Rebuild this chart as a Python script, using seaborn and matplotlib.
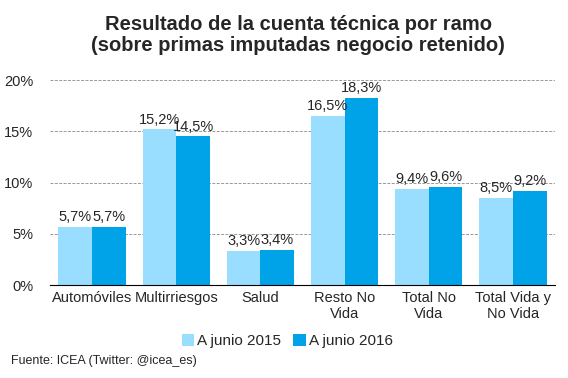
import numpy as np
import pandas as pd
import matplotlib
matplotlib.use("Agg")
import matplotlib.pyplot as plt
import seaborn as sns
from matplotlib import ticker

categorias = ["Automóviles", "Multirriesgos", "Salud", "Resto No\nVida", "Total No\nVida", "Total Vida y\nNo Vida"]
junio_2015 = [5.7, 15.2, 3.3, 16.5, 9.4, 8.5]
junio_2016 = [5.7, 14.5, 3.4, 18.3, 9.6, 9.2]
series = ["A junio 2015", "A junio 2016"]
colores = ["#99DDFF", "#00A3E8"]

df = pd.DataFrame({
    "ramo": categorias * 2,
    "valor": junio_2015 + junio_2016,
    "serie": [series[0]] * len(categorias) + [series[1]] * len(categorias),
})

sns.set_style("white")
plt.rcParams["font.family"] = ["Liberation Sans", "DejaVu Sans"]

fig = plt.figure(figsize=(5.68, 3.78), dpi=100)
ax = fig.add_axes([0.088, 0.246, 0.889, 0.542])

sns.barplot(data=df, x="ramo", y="valor", hue="serie", palette=colores,
            width=0.8, gap=0, saturation=1, linewidth=0, ax=ax, legend=True)

for cont in ax.containers:
    ax.bar_label(cont, labels=[f"{v:.1f}%".replace(".", ",") for v in cont.datavalues],
                 padding=2, fontsize=10.5)

ax.set_ylim(0, 20)
ax.set_xlim(-0.5, len(categorias) - 0.5)
ax.yaxis.set_major_locator(ticker.MultipleLocator(5))
ax.yaxis.set_major_formatter(ticker.FuncFormatter(lambda v, p: f"{v:.0f}%"))
ax.grid(axis="y", color="#999999", linestyle=(0, (3, 1.5)), linewidth=0.7)
ax.set_axisbelow(True)
for s in ["top", "right", "left"]:
    ax.spines[s].set_visible(False)
ax.spines["bottom"].set_color("black")
ax.set_xlabel("")
ax.set_ylabel("")
ax.tick_params(axis="y", length=0, labelsize=10.5, pad=12)
ax.tick_params(axis="x", which="major", length=0, labelsize=10.5, pad=4)
ax.set_xticks(np.arange(-0.5, len(categorias)), minor=True)
ax.tick_params(axis="x", which="minor", length=5, color="black", direction="out")

ax.legend(loc="upper center", bbox_to_anchor=(0.47, -0.21), ncol=2, frameon=False,
          fontsize=11, handlelength=0.8, handleheight=0.8, handletextpad=0.2,
          columnspacing=0.8, borderaxespad=0)

fig.text(0.525, 0.96, "Resultado de la cuenta técnica por ramo\n(sobre primas imputadas negocio retenido)",
         ha="center", va="top", fontsize=14.5, fontweight="bold", linespacing=1.15)
fig.text(0.02, 0.045, "Fuente: ICEA (Twitter: @icea_es)", fontsize=9, ha="left", va="center")

fig.savefig("out.png", dpi=100)
